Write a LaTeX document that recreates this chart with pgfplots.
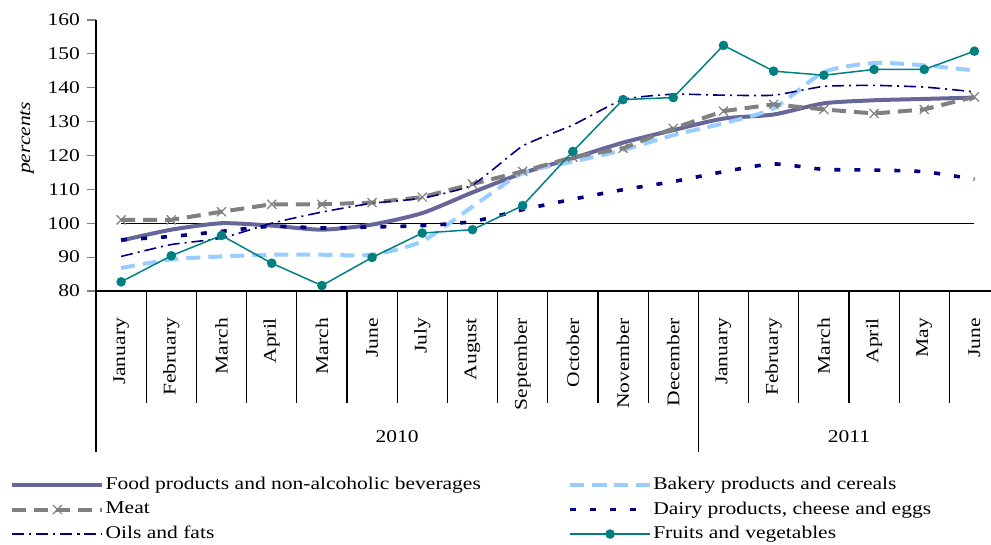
\documentclass[border=0pt]{standalone}
\usepackage{fontspec}
\setmainfont{Liberation Serif}[FakeStretch=1.2]
\usepackage{pgfplots}
\pgfplotsset{compat=1.18}

\definecolor{foodc}{RGB}{102,102,153}
\definecolor{bakec}{RGB}{153,204,255}
\definecolor{meatc}{RGB}{128,128,128}
\definecolor{navyc}{RGB}{0,0,128}
\definecolor{fruitc}{RGB}{0,128,128}

\begin{document}
\begin{tikzpicture}[font=\fontsize{9}{10.8}\selectfont]
\begin{axis}[
    scale only axis,
    width=447.5bp, height=135.5bp,
    xmin=-0.5, xmax=17.33, ymin=80, ymax=160,
    axis x line*=bottom, axis y line*=left,
    axis line style={line width=0.6bp},
    ytick={80,90,...,160},
    yticklabels={80,90,100,110,120,130,140,150,160},
    xtick={0,...,17},
    xticklabels={January,February,March,April,March,June,July,August,September,October,November,December,January,February,March,April,May,June},
    major x tick style={draw=none},
    ytick style={line width=0.6bp},
    tick align=outside, major tick length=4.5bp,
    xticklabel style={rotate=90, anchor=east},
    xticklabel shift=5.5bp,
    ylabel={\itshape percents},
    ylabel style={at={(ticklabel cs:0.58)}, xshift=-2bp},
    clip=false,
    legend columns=2,
    legend cell align=left,
    legend style={draw=none, fill=none, inner sep=0pt,
        at={(axis description cs:0,0)}, anchor=north west,
        xshift=-43bp, yshift=-92bp,
        row sep=2.5bp,
        nodes={inner xsep=0.6bp, inner ysep=1bp},
        /tikz/every even column/.append style={column sep=43bp}},
    legend image code/.code={\draw[mark repeat=2,mark phase=2] plot coordinates {(0bp,0bp) (22.5bp,0bp) (45bp,0bp)};},
    short legend/.style={legend image code/.code={\draw[mark repeat=2,mark phase=2] plot coordinates {(0bp,0bp) (20bp,0bp) (40bp,0bp)};}},
]
% reference line at 100
\addplot[black, line width=0.6bp, forget plot] coordinates {(0,100) (17,100)};

\addplot[foodc, line width=2bp, smooth, tension=0.4] coordinates {
(0,94.9) (1,98.1) (2,100.0) (3,99.3) (4,98.1) (5,99.6) (6,103.0) (7,109.1) (8,114.8)
(9,119.2) (10,123.8) (11,127.5) (12,130.9) (13,132.1) (14,135.4) (15,136.3) (16,136.7) (17,137.1)};
\addlegendentry{Food products and non-alcoholic beverages}

\addplot[bakec, line width=2bp, dash pattern=on 7bp off 4bp, smooth, tension=0.4, short legend] coordinates {
(0,86.8) (1,89.3) (2,90.2) (3,90.7) (4,90.7) (5,90.7) (6,94.7) (7,104.9) (8,114.8)
(9,118.2) (10,121.6) (11,126.0) (12,129.5) (13,133.9) (14,144.6) (15,147.3) (16,146.6) (17,145.1)};
\addlegendentry{Bakery products and cereals}

\addplot[meatc, line width=2bp, dash pattern=on 7bp off 4bp, mark=x, mark size=3.2bp,
    mark options={solid, line width=0.6bp}] coordinates {
(0,101.0) (1,101.0) (2,103.4) (3,105.6) (4,105.6) (5,106.1) (6,107.7) (7,111.6) (8,115.3)
(9,119.5) (10,122.1) (11,128.0) (12,133.1) (13,135.1) (14,133.6) (15,132.4) (16,133.6) (17,137.3)};
\addlegendentry{Meat}

\addplot[navyc, line width=1.8bp, dash pattern=on 3bp off 7bp, smooth, tension=0.4, short legend] coordinates {
(0,95.1) (1,96.1) (2,97.6) (3,99.1) (4,98.6) (5,98.9) (6,99.3) (7,100.5) (8,104.0)
(9,107.1) (10,109.9) (11,112.3) (12,115.2) (13,117.5) (14,115.9) (15,115.7) (16,115.2) (17,113.0)};
\addlegendentry{Dairy products, cheese and eggs}

\addplot[navyc, line width=0.8bp, dash pattern=on 6bp off 2.5bp on 1bp off 2.5bp, smooth, tension=0.3] coordinates {
(0,90.2) (1,93.7) (2,95.6) (3,100.0) (4,103.3) (5,105.9) (6,107.4) (7,111.3) (8,122.8)
(9,129.0) (10,136.5) (11,138.1) (12,137.8) (13,137.8) (14,140.4) (15,140.7) (16,140.2) (17,138.8)};
\addlegendentry{Oils and fats}

\addplot[fruitc, line width=0.75bp, mark=*, mark size=2bp, mark options={fill=fruitc}, short legend] coordinates {
(0,82.7) (1,90.4) (2,96.4) (3,88.2) (4,81.6) (5,89.9) (6,97.1) (7,98.1) (8,105.2)
(9,121.2) (10,136.5) (11,137.1) (12,152.5) (13,144.9) (14,143.7) (15,145.4) (16,145.4) (17,150.8)};
\addlegendentry{Fruits and vegetables}

% category separators and year blocks
\pgfplotsinvokeforeach{0.5,1.5,...,16.5}{
  \draw[line width=0.6bp] (axis cs:#1,80) -- ([yshift=-56bp]axis cs:#1,80);
}
\draw[line width=0.6bp] (axis cs:-0.5,80) -- ([yshift=-80.5bp]axis cs:-0.5,80);
\draw[line width=0.6bp] (axis cs:11.5,80) -- ([yshift=-80.5bp]axis cs:11.5,80);
\node at (axis cs:5.5,80) [yshift=-73bp] {2010};
\node at (axis cs:14.5,80) [yshift=-73bp] {2011};
\coordinate (bbtl) at ([xshift=-48bp,yshift=10bp]axis cs:-0.5,160);
\coordinate (bbbr) at ([yshift=-127bp]axis cs:17.33,80);
\end{axis}
\pgfresetboundingbox
\path[use as bounding box] (bbtl) rectangle (bbbr);
\end{tikzpicture}
\end{document}
